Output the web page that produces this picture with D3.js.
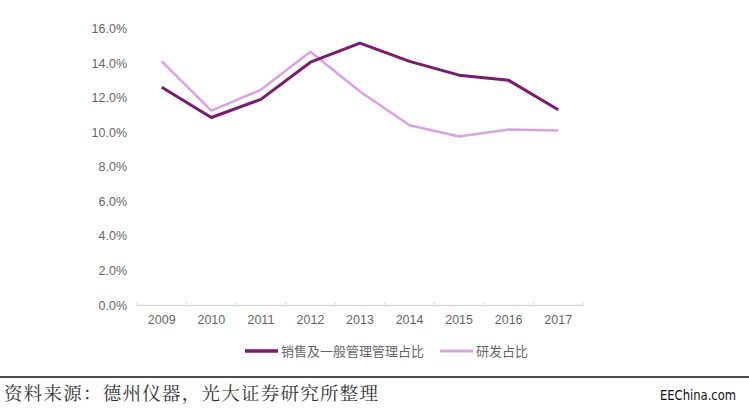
<!DOCTYPE html>
<html><head><meta charset="utf-8">
<script src="https://cdn.jsdelivr.net/npm/d3@7"></script>
<style>body{margin:0;background:#fff;}svg{display:block;}</style>
</head><body>
<svg id="c" width="749" height="410"></svg>
<script>
const years = ["2009","2010","2011","2012","2013","2014","2015","2016","2017"];
const salesAdmin = [12.6, 10.85, 11.9, 14.05, 15.15, 14.1, 13.3, 13.0, 11.3];
const rnd = [14.1, 11.25, 12.45, 14.65, 12.35, 10.4, 9.75, 10.15, 10.1];
const yTicks = [0, 2, 4, 6, 8, 10, 12, 14, 16];
const seriesNames = ["销售及一般管理管理占比", "研发占比"];
const colors = ["#7a1a70", "#d7a2e6"];
const sourceText = "资料来源：德州仪器，光大证券研究所整理";
const brand = "EEChina.com";

(function(){
const svg = d3.select("#c");
const pL = 137, pR = 583, pT = 28.5, pB = 305;
const x = d3.scaleBand().domain(years).range([pL, pR]);
const y = d3.scaleLinear().domain([0, 16]).range([pB, pT]);

const ya = svg.append("g").attr("transform", `translate(${pL},0)`)
  .call(d3.axisLeft(y).tickValues(yTicks).tickFormat(d => d.toFixed(1) + "%").tickSize(0).tickPadding(10));
ya.select(".domain").remove();
ya.selectAll("text").attr("fill", "#666").style("font-family", "Arial, 'Liberation Sans', sans-serif").style("font-size", "12.5px");

const xa = svg.append("g").attr("transform", `translate(0,${pB})`)
  .call(d3.axisBottom(x).tickSize(0).tickPadding(10));
xa.select(".domain").attr("stroke", "#d9d9d9").attr("stroke-width", 1.5);
xa.selectAll("text").attr("fill", "#666").style("font-family", "Arial, 'Liberation Sans', sans-serif").style("font-size", "12.5px");
const bounds = years.map(d => x(d)).concat([pR]);
svg.append("g").selectAll("line").data(bounds).join("line")
  .attr("x1", d => d).attr("x2", d => d).attr("y1", pB - 3).attr("y2", pB + 1)
  .attr("stroke", "#d9d9d9").attr("stroke-width", 1);

const line = d3.line().x((d, i) => x(years[i]) + x.bandwidth() / 2).y(d => y(d));
[rnd, salesAdmin].forEach((s, k) => {
  const ci = k === 0 ? 1 : 0;
  svg.append("path").datum(s).attr("d", line).attr("fill", "none")
    .attr("stroke", colors[ci]).attr("stroke-width", ci === 0 ? 3 : 2.5)
    .attr("stroke-linejoin", "round");
});

const leg = [{x: 245, t: seriesNames[0], c: colors[0], w: 3.5}, {x: 440, t: seriesNames[1], c: colors[1], w: 3}];
leg.forEach(l => {
  svg.append("line").attr("x1", l.x).attr("x2", l.x + 33).attr("y1", 351).attr("y2", 351)
    .attr("stroke", l.c).attr("stroke-width", l.w);
  svg.append("text").attr("x", l.x + 36).attr("y", 355.5).text(l.t)
    .attr("fill", "#666").style("font-family", "'Noto Sans CJK SC', sans-serif").style("font-size", "13px");
});

svg.append("line").attr("x1", 0).attr("x2", 749).attr("y1", 377).attr("y2", 377)
  .attr("stroke", "#4d4d4d").attr("stroke-width", 2);
svg.append("text").attr("x", 4).attr("y", 400).text(sourceText)
  .attr("fill", "#333").attr("textLength", 374).attr("lengthAdjust", "spacing")
  .style("font-family", "'Noto Serif CJK SC', 'Noto Sans CJK SC', serif").style("font-size", "18.5px");
svg.append("text").attr("x", 736).attr("y", 400).attr("text-anchor", "end").text(brand)
  .attr("fill", "#111").attr("textLength", 76).attr("lengthAdjust", "spacingAndGlyphs")
  .style("font-family", "'Liberation Sans Narrow', 'DejaVu Sans Condensed', sans-serif").style("font-size", "14px");
})();
</script>
</body></html>
